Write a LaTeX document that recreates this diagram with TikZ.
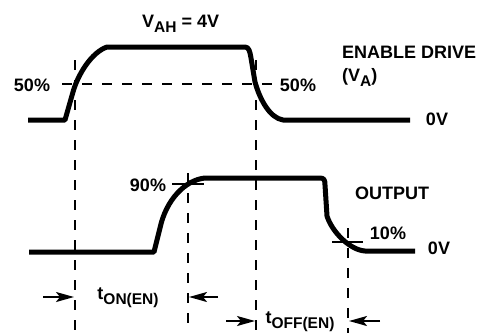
\documentclass[tikz,border=0pt]{standalone}
\usepackage{fontspec}
\setmainfont{Liberation Sans}
\usetikzlibrary{arrows.meta}
\newcommand{\lowtxt}[1]{\raisebox{-5pt}{\fontsize{15.5}{15.5}\selectfont #1}}
\begin{document}
\begin{tikzpicture}[x=1pt,y=-1pt,
  wave/.style={line width=5pt,line join=round},
  guide/.style={line width=2.3pt,dash pattern=on 10pt off 10pt},
  hguide/.style={line width=2.3pt,dash pattern=on 10pt off 10pt},
  tick/.style={line width=1.8pt},
  lbl/.style={font=\fontsize{18}{18}\selectfont\bfseries,inner sep=0pt},
  arr/.style={line width=2pt,-{Stealth[length=18pt,width=10pt,inset=4pt]}}]
\useasboundingbox (0,0) rectangle (487,333);
% enable drive waveform
\draw[wave] (28,120) -- (65,120) -- (73,92) .. controls (78,74) and (92,52) .. (107,47)
  -- (245,47) .. controls (249,47) and (250,52) .. (251,58) -- (255,82)
  .. controls (260,100) and (270,118) .. (283,120) -- (410,120);
% output waveform
\draw[wave] (29,252) -- (154,252) -- (160,228) .. controls (166,200) and (185,180) .. (205,178)
  -- (320,178) .. controls (324,178) and (325,180) .. (325,185) -- (327,216)
  .. controls (332,232) and (350,250) .. (365,251) -- (415,251);
% guides
\coordinate (g1t) at (75,60);  \coordinate (g1b) at (75,333);
\coordinate (g2t) at (256,60); \coordinate (g2b) at (256,333);
\coordinate (g3t) at (188,173); \coordinate (g3b) at (188,333);
\coordinate (g4t) at (348,228); \coordinate (g4b) at (348,333);
\coordinate (h1l) at (62,84); \coordinate (h1r) at (272,84);
\draw[guide] (g1t) -- (g1b);
\draw[guide] (g2t) -- (g2b);
\draw[guide] (g3t) -- (g3b);
\draw[guide] (g4t) -- (g4b);
\draw[hguide] (h1l) -- (h1r);
% ticks
\coordinate (t90l) at (172,184); \coordinate (t90r) at (204,184);
\coordinate (t10l) at (332,242); \coordinate (t10r) at (363,242);
\draw[tick] (t90l) -- (t90r);
\draw[tick] (t10l) -- (t10r);
% labels
\node[lbl,anchor=base west] (vah) at (142,27) {V\lowtxt{AH} = 4V};
\node[lbl] (p50l) at (32,85) {50\%};
\node[lbl] (p50r) at (298,85) {50\%};
\node[lbl,anchor=base west] (en) at (342,58) {ENABLE DRIVE};
\node[lbl,anchor=base west] (va) at (342,81) {(V\lowtxt{A})};
\node[lbl] (ov1) at (437,119) {0V};
\node[lbl] (p90) at (148,185) {90\%};
\node[lbl] (out) at (392,193) {OUTPUT};
\node[lbl] (p10) at (388,233) {10\%};
\node[lbl] (ov2) at (439,248) {0V};
\node[lbl] (ton) at (128,298) {t\lowtxt{ON(EN)}};
\node[lbl] (toff) at (300,322) {t\lowtxt{OFF(EN)}};
% timing arrows
\coordinate (a1s) at (43,297); \coordinate (a1e) at (74,297);
\coordinate (a2s) at (218,297); \coordinate (a2e) at (189,297);
\coordinate (a3s) at (226,321); \coordinate (a3e) at (255,321);
\coordinate (a4s) at (380,321); \coordinate (a4e) at (349,321);
\draw[arr] (a1s) -- (a1e);
\draw[arr] (a2s) -- (a2e);
\draw[arr] (a3s) -- (a3e);
\draw[arr] (a4s) -- (a4e);
\end{tikzpicture}
\end{document}
